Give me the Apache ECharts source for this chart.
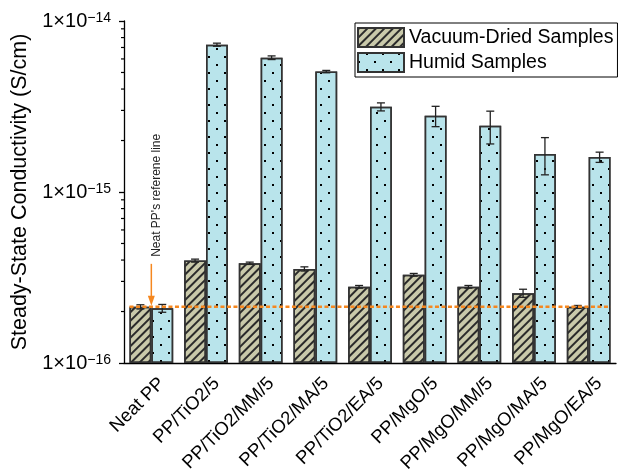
<!DOCTYPE html>
<html><head><meta charset="utf-8">
<script src="https://cdn.jsdelivr.net/npm/echarts@6/dist/echarts.min.js"></script>
<style>html,body{margin:0;padding:0;background:#fff}#c{width:625px;height:471px}</style>
</head><body><div id="c"></div>
<script>
const categories = ['Neat PP','PP/TiO2/5','PP/TiO2/MM/5','PP/TiO2/MA/5','PP/TiO2/EA/5','PP/MgO/5','PP/MgO/MM/5','PP/MgO/MA/5','PP/MgO/EA/5'];
const vacuumValues = [2.13e-16, 3.97e-16, 3.83e-16, 3.55e-16, 2.79e-16, 3.28e-16, 2.79e-16, 2.56e-16, 2.13e-16];
const vacuumErrors = [0.06e-16, 0.08e-16, 0.06e-16, 0.10e-16, 0.05e-16, 0.06e-16, 0.05e-16, 0.14e-16, 0.04e-16];
const humidValues = [2.09e-16, 7.27e-15, 6.10e-15, 5.06e-15, 3.15e-15, 2.79e-15, 2.44e-15, 1.67e-15, 1.60e-15];
const humidErrors = [0.11e-16, 0.15e-15, 0.15e-15, 0.08e-15, 0.17e-15, 0.38e-15, 0.53e-15, 0.41e-15, 0.11e-15];
const referenceValue = 2.13e-16;
const referenceLabel = "Neat PP's referene line";
const yMinorTickValues = [2e-16,3e-16,4e-16,5e-16,6e-16,7e-16,8e-16,9e-16,2e-15,3e-15,4e-15,5e-15,6e-15,7e-15,8e-15,9e-15];
const yMin = 1e-16, yMax = 1e-14;
const SCALE = 1e16; // plot in units of 1e-16 S/cm

const FONT = 'Liberation Sans, Arial, sans-serif';
const ORANGE = '#F5871F';
const chart = echarts.init(document.getElementById('c'));

function errSeries(values, errors, side) {
  return {
    type: 'custom', silent: true, z: 4, clip: false,
    data: values.map((v, i) => [i, (v - errors[i]) * SCALE, (v + errors[i]) * SCALE]),
    encode: { x: 0, y: [1, 2] },
    renderItem(params, api) {
      const i = api.value(0);
      const lo = api.coord([i, api.value(1)]);
      const hi = api.coord([i, api.value(2)]);
      const bw = api.size([1, 0])[0] * 0.4;
      const x = lo[0] + side * bw / 2;
      const c = 4;
      const st = { stroke: '#222', lineWidth: 1.3 };
      return { type: 'group', children: [
        { type: 'line', shape: { x1: x, y1: lo[1], x2: x, y2: hi[1] }, style: st },
        { type: 'line', shape: { x1: x - c, y1: lo[1], x2: x + c, y2: lo[1] }, style: st },
        { type: 'line', shape: { x1: x - c, y1: hi[1], x2: x + c, y2: hi[1] }, style: st }
      ]};
    }
  };
}

const option = {
  animation: false,
  backgroundColor: '#fff',
  textStyle: { fontFamily: FONT },
  grid: { left: 124, right: 9, top: 21, bottom: 108, containLabel: false, outerBoundsMode: 'none' },
  legend: {
    data: ['Vacuum-Dried Samples', 'Humid Samples'],
    orient: 'vertical', left: 355, top: 23,
    padding: [4, 4, 4, 2], itemGap: 4, itemWidth: 46, itemHeight: 19,
    icon: 'rect', borderColor: '#000', borderWidth: 1,
    textStyle: { fontSize: 19.5, color: '#000', fontFamily: FONT }
  },
  xAxis: [{
    type: 'category', data: categories,
    axisLine: { lineStyle: { color: '#000', width: 1.3 } },
    axisTick: { alignWithLabel: true, length: 6, lineStyle: { color: '#000', width: 1.3 } },
    axisLabel: { interval: 0, rotate: 45, fontSize: 18.5, color: '#000', margin: 7, verticalAlign: 'top', lineHeight: 30, fontFamily: FONT }
  }, {
    type: 'category', data: categories, position: 'bottom',
    axisLine: { show: false },
    axisTick: { length: 3, lineStyle: { color: '#000', width: 1.3 } },
    axisLabel: { show: false }
  }],
  yAxis: {
    type: 'log', logBase: 10, min: yMin * SCALE, max: yMax * SCALE,
    name: 'Steady-State Conductivity (S/cm)', nameLocation: 'middle', nameGap: 85,
    nameTextStyle: { fontSize: 21.5, color: '#000', fontFamily: FONT },
    axisLine: { show: true, lineStyle: { color: '#000', width: 1.3 } },
    axisTick: { show: true, length: 5, lineStyle: { color: '#000', width: 1.3 } },
    splitLine: { show: false },
    axisLabel: {
      margin: 13, color: '#000',
      formatter: v => {
        const e = Math.round(Math.log10(v / SCALE));
        return '{m|1×10}{e|' + (e < 0 ? '−' : '') + Math.abs(e) + '}';
      },
      rich: {
        m: { fontSize: 20, lineHeight: 20, verticalAlign: 'bottom', color: '#000', fontFamily: FONT },
        e: { fontSize: 14, lineHeight: 14, padding: [0, 0, 10, 0], verticalAlign: 'top', color: '#000', fontFamily: FONT }
      }
    }
  },
  series: [
    {
      name: 'Vacuum-Dried Samples', type: 'bar', barGap: '0%', barCategoryGap: '20%',
      data: vacuumValues.map(v => v * SCALE),
      itemStyle: { color: '#c9c9aa', borderColor: '#333', borderWidth: 1.5,
        decal: { symbol: 'rect', symbolSize: 1, dashArrayX: [1, 0], dashArrayY: [1.3, 3.5], rotation: -Math.PI / 4, color: '#2a2a2a' } }
    },
    {
      name: 'Humid Samples', type: 'bar', barGap: '0%', barCategoryGap: '20%',
      data: humidValues.map(v => v * SCALE),
      itemStyle: { color: '#b9e4eb', borderColor: '#333', borderWidth: 1.5,
        decal: { symbol: 'rect', symbolSize: 1, dashArrayX: [[2, 14], [0, 8, 2, 6]], dashArrayY: [2, 6], color: '#000' } }
    },
    errSeries(vacuumValues, vacuumErrors, -1),
    errSeries(humidValues, humidErrors, 1),
    {
      type: 'custom', silent: true, z: 5, clip: false,
      data: yMinorTickValues.map(v => [0, v * SCALE]),
      renderItem(params, api) {
        const y = api.coord([0, api.value(1)])[1];
        const x0 = params.coordSys.x;
        return { type: 'line', shape: { x1: x0 - 3, y1: y, x2: x0, y2: y }, style: { stroke: '#000', lineWidth: 1.2 } };
      }
    },
    {
      type: 'custom', silent: true, z: 6, clip: false,
      data: [[0, referenceValue * SCALE]],
      renderItem(params, api) {
        const v = api.value(1);
        const p = api.coord([0, v]);
        const pEnd = api.coord([categories.length - 1, v]);
        const bw = api.size([1, 0])[0] * 0.4;
        return { type: 'group', children: [
          { type: 'line', shape: { x1: p[0] - bw, y1: p[1], x2: pEnd[0] + bw, y2: p[1] },
            style: { stroke: ORANGE, lineWidth: 2.5, lineDash: [4, 2.5] } },
          { type: 'line', shape: { x1: p[0], y1: p[1] - 43, x2: p[0], y2: p[1] - 9 },
            style: { stroke: ORANGE, lineWidth: 1.5 } },
          { type: 'polygon', shape: { points: [[p[0] - 3.5, p[1] - 11], [p[0] + 3.5, p[1] - 11], [p[0], p[1] - 1]] },
            style: { fill: ORANGE } },
          { type: 'text', x: p[0] + 5, y: p[1] - 50, rotation: Math.PI / 2,
            style: { text: referenceLabel, fontSize: 12, fontFamily: FONT, fill: '#222', align: 'left', verticalAlign: 'middle' } }
        ]};
      }
    }
  ]
};
chart.setOption(option);
</script>
</body></html>
